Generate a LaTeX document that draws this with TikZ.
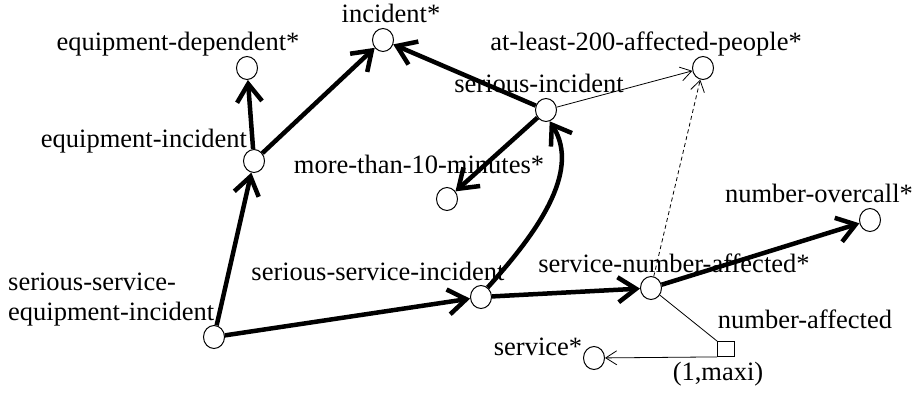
\documentclass[tikz,border=0pt]{standalone}
\usepackage{fontspec}
\setmainfont{Liberation Serif}
\usetikzlibrary{arrows.meta,shapes.geometric}
\begin{document}
\begin{tikzpicture}[x=1pt,y=-1pt,
  dot/.style={draw, ellipse, minimum width=21pt, minimum height=23pt, inner sep=0pt, line width=1pt},
  lbl/.style={font=\fontsize{26.5}{30}\selectfont, inner sep=0pt, anchor=base},
  lblw/.style={font=\fontsize{26.5}{30}\selectfont, inner sep=0pt, anchor=base west},
  heavy/.style={line width=4.5pt, -{Straight Barb[length=18pt,width=25pt,line cap=butt,line join=miter]}},
  light/.style={line width=0.8pt, -{Straight Barb[length=11pt,width=14pt]}},
  plain/.style={line width=0.8pt}
]
\useasboundingbox (0,0) rectangle (915,392);
% nodes
\node[dot] (inc) at (383,40) {};
\node[dot] (eqd) at (247,68) {};
\node[dot] (eqi) at (254,161) {};
\node[dot] (si) at (546,110) {};
\node[dot] (al) at (703,68) {};
\node[dot] (mt) at (447,199) {};
\node[dot] (ssei) at (214,337) {};
\node[dot] (ssi) at (481,297) {};
\node[dot] (sna) at (651,288) {};
\node[dot] (no) at (870,220) {};
\node[dot] (svc) at (594,358) {};
\node[draw, line width=0.8pt, minimum width=17pt, minimum height=15pt, inner sep=0pt] (sq) at (726,349) {};
% labels
\node[lbl] (l1) at (391,22) {incident*};
\node[lbl] (l2) at (178,50) {equipment-dependent*};
\node[lbl] (l3) at (144,147) {equipment-incident};
\node[lbl] (l4) at (539,92) {serious-incident};
\node[lbl] (l5) at (646,50) {at-least-200-affected-people*};
\node[lbl] (l6) at (419,173) {more-than-10-minutes*};
\node[lblw] (l7a) at (8,290) {serious-service-};
\node[lblw] (l7b) at (8,320) {equipment-incident};
\node[lbl] (l8) at (378,280) {serious-service-incident};
\node[lbl] (l9) at (674,272) {service-number-affected*};
\node[lbl] (l10) at (819,202) {number-overcall*};
\node[lbl] (l11) at (805,328) {number-affected};
\node[lbl] (l12) at (538,355) {service*};
\node[lbl] (l13) at (718,380) {(1,maxi)};
% edges
\draw[heavy] (ssei) -- (eqi);
\draw[heavy] (eqi) -- (eqd);
\draw[heavy] (eqi) -- (inc);
\draw[heavy] (si) -- (inc);
\draw[heavy] (si) -- (mt);
\draw[heavy] (ssei) -- (ssi);
\draw[heavy] (ssi.55) .. controls (535,235) and (582,172) .. (si.-72);
\draw[heavy] (ssi) -- (sna);
\draw[heavy] (sna) -- (no);
\draw[light] (si) -- (al);
\draw[light, dash pattern=on 4pt off 3pt] (sna) -- (al);
\draw[plain] (sna) -- (sq.north west);
\draw[light] (sq.south west) -- (svc);
\end{tikzpicture}
\end{document}
